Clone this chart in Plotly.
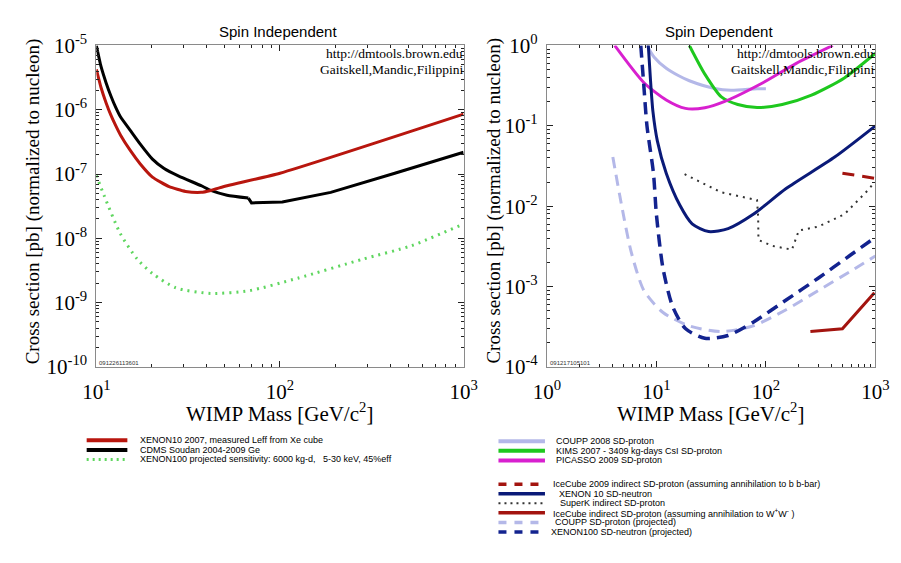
import plotly.graph_objects as go

W, H = 901, 563

# ---------------- Spin Independent data (mass GeV, cross section pb) ----------------
si_xenon10_m = [10, 10.6, 11.29, 12.0, 12.75, 13.55, 15.3, 17.3, 20.2, 24.9, 30.6, 37.2, 42.0,
                51.5, 100, 1000]
si_xenon10_s = [4.26e-6, 2.22e-6, 1.29e-6, 8.26e-7, 5.67e-7, 4.03e-7, 2.33e-7, 1.45e-7, 8.97e-8,
                6.37e-8, 5.37e-8, 5.19e-8, 5.56e-8, 6.59e-8, 1.03e-7, 8.55e-7]

si_cdms_m = [10, 10.6, 11.29, 12.0, 12.75, 13.55, 15.3, 17.3, 20.2, 23.4, 28.1, 37.2, 42.0, 51.5,
             67.3]
si_cdms_s = [1e-5, 4.72e-6, 2.64e-6, 1.64e-6, 1.09e-6, 7.7e-7, 4.78e-7, 2.95e-7, 1.71e-7,
             1.22e-7, 9.3e-8, 6.59e-8, 5.56e-8, 4.69e-8, 4.23e-8]
si_cdms_hi_m = [67.3, 70.0, 103, 189, 422, 1000]
si_cdms_hi_s = [4.23e-8, 3.56e-8, 3.69e-8, 5.19e-8, 1.03e-7, 2.18e-7]

si_x100_m = [10, 11.0, 13.5, 16.7, 20.2, 27.1, 42, 68.3, 125, 283, 519, 952, 1000]
si_x100_s = [9.5e-8, 4.69e-8, 1.19e-8, 4.75e-9, 2.84e-9, 1.70e-9, 1.39e-9, 1.54e-9, 2.40e-9,
             4.75e-9, 7.66e-9, 1.57e-8, 1.65e-8]

# ---------------- Spin Dependent data ----------------
coupp08_m = [8.2, 9.5, 12.3, 16, 20, 34, 48, 83, 100]
coupp08_s = [1.0, 0.72, 0.52, 0.42, 0.364, 0.292, 0.277, 0.29, 0.29]

kims_m = [20, 27.7, 39.2, 55.4, 83.2, 141, 261, 521, 1000]
kims_s = [1.0, 0.44, 0.229, 0.184, 0.169, 0.184, 0.241, 0.395, 0.8]

picasso_m = [4.16, 7.7, 12.3, 18.4, 27.7, 41.6, 94, 188, 408]
picasso_s = [1.0, 0.344, 0.21, 0.165, 0.168, 0.2, 0.344, 0.595, 1.0]

icecube09_m = [500, 1000]
icecube09_s = [0.0257, 0.0222]

xenon10sd_m = [8.4, 8.8, 9.3, 10.2, 12.3, 16.3, 21.2, 30, 45.2, 76.7, 153, 425, 1000]
xenon10sd_s = [1.1, 0.4, 0.15, 0.065, 0.0257, 0.0104, 0.00603, 0.00484, 0.00526, 0.00793,
               0.0166, 0.0409, 0.1]

superk_m = [18.1, 39, 83, 85, 85.5, 115, 173, 200, 300, 521, 885, 950]
superk_s = [0.025, 0.0149, 0.0119, 0.0073, 0.0038, 0.0032, 0.00288, 0.00498, 0.00556, 0.00793,
            0.0166, 0.019]

icecubeW_m = [255, 500, 980]
icecubeW_s = [2.75e-4, 2.98e-4, 8.4e-4]

coupp_proj_m = [4.0, 4.8, 5.9, 7.7, 11.5, 20, 39, 76.7, 153, 300, 589, 1000]
coupp_proj_s = [0.041, 0.0104, 0.00266, 8.9e-4, 4.75e-4, 3.24e-4, 2.75e-4, 3.24e-4, 5.15e-4,
                8.9e-4, 1.54e-3, 2.4e-3]

xenon100_m = [7.2, 7.7, 8.2, 9.4, 10, 11.5, 14.1, 18.4, 27.7, 45, 76.7, 153, 300, 589, 1000]
xenon100_s = [1.0, 0.3, 0.1, 0.0257, 0.0079, 0.00167, 5.6e-4, 3.0e-4, 2.27e-4, 2.46e-4, 3.6e-4,
              6.8e-4, 1.27e-3, 2.45e-3, 4.1e-3]

# tick labels
si_xticks = [10, 100, 1000]
si_xlabels = ["10<sup>1</sup>", "10<sup>2</sup>", "10<sup>3</sup>"]
si_yticks = [1e-10, 1e-9, 1e-8, 1e-7, 1e-6, 1e-5]
si_ylabels = ["10<sup>-10</sup>", "10<sup>-9</sup>", "10<sup>-8</sup>", "10<sup>-7</sup>",
              "10<sup>-6</sup>", "10<sup>-5</sup>"]
sd_xticks = [1, 10, 100, 1000]
sd_xlabels = ["10<sup>0</sup>", "10<sup>1</sup>", "10<sup>2</sup>", "10<sup>3</sup>"]
sd_yticks = [1e-4, 1e-3, 1e-2, 1e-1, 1]
sd_ylabels = ["10<sup>-4</sup>", "10<sup>-3</sup>", "10<sup>-2</sup>", "10<sup>-1</sup>",
              "10<sup>0</sup>"]

# colours
C_RED = "#b8160e"
C_BLACK = "#000000"
C_LGREEN = "#5fd65f"
C_LAV = "#b4b8e8"
C_GREEN = "#1ec81e"
C_MAG = "#d820cf"
C_DRED = "#a3140f"
C_NAVY = "#0a1a78"
C_NAVY2 = "#13238f"
C_GREY = "#333333"


def px(x):
    return x / W


def py(y):
    return 1 - y / H


fig = go.Figure()


def add(x, y, color, width, dash, xa, ya, shape="spline", smoothing=0.7):
    fig.add_trace(go.Scatter(x=x, y=y, mode="lines",
                             line=dict(color=color, width=width, dash=dash, shape=shape,
                                       smoothing=smoothing),
                             xaxis=xa, yaxis=ya, showlegend=False, hoverinfo="skip"))


# Spin independent
add(si_x100_m, si_x100_s, C_LGREEN, 3, "2px,5px", "x", "y")
add(si_cdms_m, si_cdms_s, C_BLACK, 3, "solid", "x", "y", smoothing=0.5)
add(si_cdms_hi_m, si_cdms_hi_s, C_BLACK, 3, "solid", "x", "y", shape="linear")
add(si_xenon10_m, si_xenon10_s, C_RED, 3, "solid", "x", "y", smoothing=0.5)

# Spin dependent
add(coupp_proj_m, coupp_proj_s, C_LAV, 3, "11px,7px", "x2", "y2")
add(coupp08_m, coupp08_s, C_LAV, 3, "solid", "x2", "y2")
add(kims_m, kims_s, C_GREEN, 3, "solid", "x2", "y2")
add(picasso_m, picasso_s, C_MAG, 3, "solid", "x2", "y2")
add(superk_m, superk_s, C_GREY, 2, "2px,5px", "x2", "y2", shape="linear")
add(icecube09_m, icecube09_s, C_DRED, 3, "12px,8px", "x2", "y2", shape="linear")
add(icecubeW_m, icecubeW_s, C_DRED, 3, "solid", "x2", "y2", shape="linear")
add(xenon10sd_m, xenon10sd_s, C_NAVY, 3, "solid", "x2", "y2")
add(xenon100_m, xenon100_s, C_NAVY2, 3.5, "12px,7px", "x2", "y2")


def minor_vals(lo, hi):
    vals = []
    for e in range(lo, hi):
        for k in range(2, 10):
            vals.append(k * 10 ** e)
    return vals


serif = "Liberation Serif"
sans = "Liberation Sans"

axis_common = dict(type="log", showgrid=False, zeroline=False, showline=True,
                   linecolor="#8a8a8a", linewidth=1, mirror="allticks",
                   ticks="inside", ticklen=6, tickcolor="#222", tickwidth=1,
                   tickmode="array", tickfont=dict(family=serif, size=21, color="#000"))

top, bottom = 33, 370
fig.update_layout(
    width=W, height=H, margin=dict(l=0, r=0, t=0, b=0),
    paper_bgcolor="white", plot_bgcolor="white", showlegend=False,
    xaxis=dict(axis_common, domain=[px(85), px(464)], range=[1, 3], tickvals=si_xticks,
               ticktext=si_xlabels, anchor="y", ticklabelstandoff=6,
               minor=dict(ticks="inside", ticklen=3, tickcolor="#222", tickmode="array",
                          tickvals=minor_vals(1, 3))),
    yaxis=dict(axis_common, domain=[py(bottom), py(top)], range=[-10, -5], tickvals=si_yticks,
               ticktext=si_ylabels, anchor="x", ticklabelstandoff=4,
               minor=dict(ticks="inside", ticklen=3, tickcolor="#222", tickmode="array",
                          tickvals=minor_vals(-10, -5))),
    xaxis2=dict(axis_common, domain=[px(550), px(889)], range=[0, 3], tickvals=sd_xticks,
                ticktext=sd_xlabels, anchor="y2", ticklabelstandoff=6,
                minor=dict(ticks="inside", ticklen=3, tickcolor="#222", tickmode="array",
                           tickvals=minor_vals(0, 3))),
    yaxis2=dict(axis_common, domain=[py(bottom), py(top)], range=[-4, 0], tickvals=sd_yticks,
                ticktext=sd_ylabels, anchor="x2", ticklabelstandoff=4,
                minor=dict(ticks="inside", ticklen=3, tickcolor="#222", tickmode="array",
                           tickvals=minor_vals(-4, 0))),
)

ann = []


def text(x, y, s, size, family, xanchor="center", yanchor="middle", angle=0, color="#000"):
    ann.append(dict(x=px(x), y=py(y), xref="paper", yref="paper", text=s, showarrow=False,
                    xanchor=xanchor, yanchor=yanchor, textangle=angle, borderpad=0,
                    font=dict(family=family, size=size, color=color)))


# titles
text(272, 18, "Spin Independent", 15, sans)
text(728, 18, "Spin Dependent", 15, sans)
# axis titles
text(274, 418, "WIMP Mass [GeV/c<sup>2</sup>]", 21, serif)
text(719, 418, "WIMP Mass [GeV/c<sup>2</sup>]", 21, serif)
text(20, 196, "Cross section [pb] (normalized to nucleon)", 19, serif, angle=-90)
text(495, 196, "Cross section [pb] (normalized to nucleon)", 19, serif, angle=-90)
# watermarks
text(464, 41, "http://dmtools.brown.edu", 13.5, serif, xanchor="right")
text(464, 58, "Gaitskell,Mandic,Filippini", 13.5, serif, xanchor="right")
text(889, 41, "http://dmtools.brown.edu", 13.5, serif, xanchor="right")
text(889, 58, "Gaitskell,Mandic,Filippini", 13.5, serif, xanchor="right")
text(87, 366, "091226113601", 6, sans, xanchor="left", color="#333")
text(552, 366, "091217105101", 6, sans, xanchor="left", color="#333")

# legends
shapes = []


def leg(x0, x1, y, color, width, dash, label, tx):
    shapes.append(dict(type="line", xref="paper", yref="paper", x0=px(x0), x1=px(x1),
                       y0=py(y), y1=py(y), line=dict(color=color, width=width, dash=dash)))
    text(tx, y, label, 9, sans, xanchor="left")


leg(75, 117, 447, C_RED, 4, "solid", "XENON10 2007, measured Leff from Xe cube", 129)
leg(75, 117, 457, C_BLACK, 4, "solid", "CDMS Soudan 2004-2009 Ge", 129)
leg(75, 117, 467, C_LGREEN, 3, "2px,4px",
    "XENON100 projected sensitivity: 6000 kg-d,   5-30 keV, 45%eff", 129)

leg(500, 548, 448, C_LAV, 4, "solid", "COUPP 2008 SD-proton", 558)
leg(500, 548, 458, C_GREEN, 4, "solid", "KIMS 2007 - 3409 kg-days CsI SD-proton", 558)
leg(500, 548, 468, C_MAG, 4, "solid", "PICASSO 2009 SD-proton", 558)
leg(500, 548, 493, C_DRED, 3.5, "8px,8px",
    "IceCube 2009 indirect SD-proton (assuming annihilation to b b-bar)", 555)
leg(500, 548, 503, C_NAVY, 3.5, "solid", "XENON 10 SD-neutron", 561)
leg(500, 548, 513, C_GREY, 2, "2px,4px", "SuperK indirect SD-proton", 562)
leg(500, 548, 523, C_DRED, 3.5, "solid",
    "IceCube indirect SD-proton (assuming annihilation to W<sup>+</sup>W<sup>-</sup> )", 555)
leg(500, 548, 533, C_LAV, 3.5, "8px,8px", "COUPP SD-proton (projected)", 557)
leg(500, 548, 543, C_NAVY2, 3.5, "8px,8px", "XENON100 SD-neutron (projected)", 553)

fig.update_layout(annotations=ann, shapes=shapes)
fig.write_html("out.html")
